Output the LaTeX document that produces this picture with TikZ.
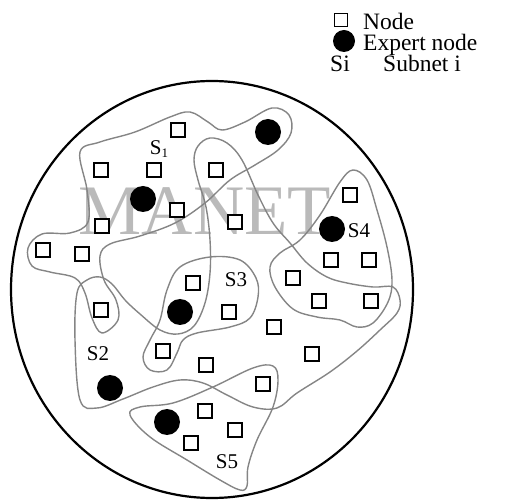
\documentclass[tikz,border=0pt]{standalone}
\usepackage{fontspec}
\setmainfont{Liberation Serif}
\begin{document}
\begin{tikzpicture}[x=1pt,y=-1pt,
  sq/.style={draw,fill=white,line width=1.4pt,minimum size=14pt,inner sep=0pt},
  expert/.style={circle,fill=black,minimum size=26pt,inner sep=0pt},
  subnet/.style={draw=black!48,line width=1.4pt},
  lbl/.style={font=\fontsize{21}{21}\selectfont,inner sep=0pt},
  legend/.style={font=\fontsize{23.5}{23.5}\selectfont,inner sep=0pt,anchor=base west},
  wmark/.style={font=\fontsize{71}{71}\selectfont,inner sep=0pt,text=black!27}]
\useasboundingbox (0,0) rectangle (506,502);

% watermark
\node[wmark] (wm) at (205,211) {MANET};

% network boundary
\draw[line width=2.2pt] (212,289.5) ellipse [x radius=201pt, y radius=208.5pt];

% subnets
\draw[subnet] plot[smooth cycle,tension=0.6] coordinates {
  (80,152) (100,142) (135,132) (170,117) (190,112) (208,122) (222,130)
  (245,122) (272,108) (289,115) (291,133) (278,150) (255,165) (230,180)
  (205,203) (175,223) (140,236) (110,244) (100,256) (104,280) (116,300)
  (118,320) (102,333) (92,318) (85,293) (75,278) (50,272) (32,266)
  (28,248) (42,234) (70,233) (88,222) (87,190)};
\draw[subnet] plot[smooth cycle,tension=0.6] coordinates {
  (87,280) (100,277) (112,284) (125,300) (140,314) (160,330) (178,334)
  (194,326) (205,303) (210,273) (210,240) (206,207) (198,180) (194,160)
  (198,146) (210,138) (227,143) (242,160) (258,195) (273,223) (290,243)
  (307,263) (327,277) (347,283) (373,287) (393,287) (400,300) (397,313)
  (380,330) (357,351) (330,372) (297,393) (277,408) (253,407) (227,395)
  (203,383) (180,380) (153,387) (123,399) (97,408) (80,400) (75,340)
  (77,293)};
\draw[subnet] plot[smooth cycle,tension=0.6] coordinates {
  (210,257) (240,260) (256,278) (258,297) (250,318) (230,327) (197,333)
  (183,340) (177,353) (167,370) (150,370) (143,357) (150,340) (160,320)
  (167,290) (180,267)};
\draw[subnet] plot[smooth cycle,tension=0.6] coordinates {
  (353,170) (367,180) (377,210) (387,247) (392,280) (388,302) (373,323)
  (357,327) (340,320) (317,317) (293,309) (275,287) (270,267) (280,253)
  (300,240) (320,215) (340,182)};
\draw[subnet] plot[smooth cycle,tension=0.6] coordinates {
  (130,415) (140,407) (173,403) (213,387) (253,368) (273,366) (278,380)
  (273,407) (257,440) (248,467) (247,486) (240,490) (220,480) (187,460)
  (150,437)};

% ordinary nodes
\foreach \p [count=\i] in {
  (178,130),(101,170),(154,170),(216,170),(177,210),(102,226),(235,222),
  (43,250),(82,254),(350,195),(331,260),(369,260),(293,278),(319,301),
  (371,301),(193,283),(229,312),(101,310),(274,327),(163,351),(206,365),
  (312,354),(263,384),(205,411),(235,430),(191,443)}
  \node[sq] (n\i) at \p {};

% expert nodes
\foreach \p [count=\i] in {(268,132),(143,199),(332,229),(180,312),(110,388),(167,422)}
  \node[expert] (e\i) at \p {};

% subnet labels
\node[lbl] (s1) at (159,149) {S\raisebox{-0.35ex}{\fontsize{13}{13}\selectfont 1}};
\node[lbl] (s2) at (98,354) {S2};
\node[lbl] (s3) at (236,280) {S3};
\node[lbl] (s4) at (359,231) {S4};
\node[lbl] (s5) at (227,462) {S5};

% legend
\node[sq,minimum size=12.5pt] (lsq) at (341,20) {};
\node[legend,text depth=0pt] (lsqt) at (363,30) {Node};
\node[expert,minimum size=22pt] (lex) at (344,41) {};
\node[legend] (lext) at (363,50.5) {Expert node};
\node[legend] (lsi) at (330,72) {Si};
\node[legend] (lsit) at (383,72) {Subnet i};
\end{tikzpicture}
\end{document}
